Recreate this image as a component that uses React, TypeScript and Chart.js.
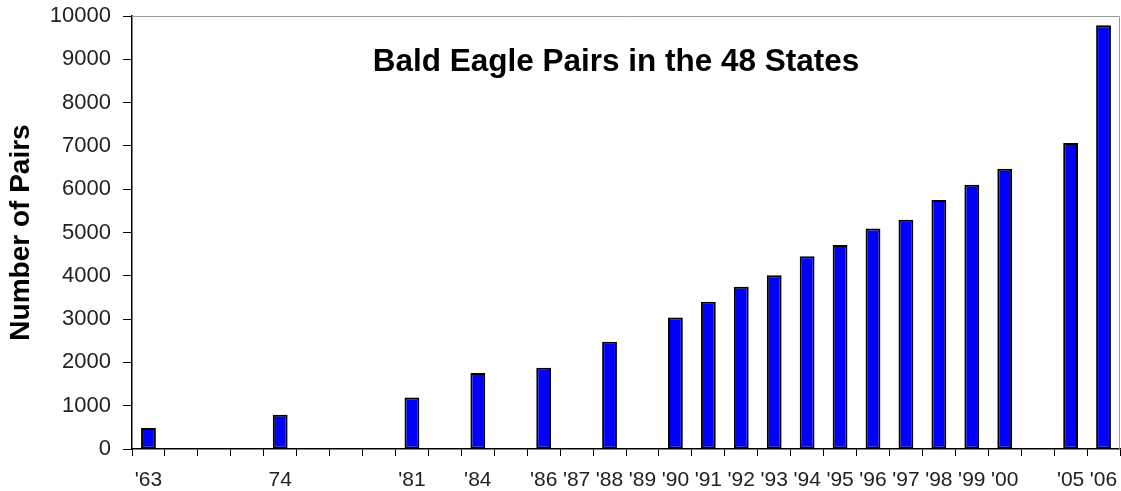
import React, { useEffect, useRef } from "react";
import { Chart, registerables } from "chart.js";

Chart.register(...registerables);

const categories: string[] = [
  "'63", "", "", "", "74", "", "", "", "'81", "", "'84", "", "'86", "'87", "'88",
  "'89", "'90", "'91", "'92", "'93", "'94", "'95", "'96", "'97", "'98", "'99", "'00", "", "'05", "'06",
];

const pairs: (number | null)[] = [
  487, null, null, null, 791, null, null, null, 1188, null, 1757, null, 1875, null, 2475,
  null, 3035, 3399, 3749, 4015, 4449, 4712, 5094, 5295, 5748, 6104, 6471, null, 7066, 9789,
];

const chartTitle = "Bald Eagle Pairs in the 48 States";
const yAxisTitle = "Number of Pairs";
const yMin = 0;
const yMax = 10000;
const yStep = 1000;

const FONT = "'Liberation Sans', Arial, sans-serif";

const insideTitle = {
  id: "insideTitle",
  afterDraw(chart: any) {
    const { ctx, chartArea } = chart;
    ctx.save();
    ctx.strokeStyle = "#9a9a9a";
    ctx.lineWidth = 1;
    ctx.beginPath();
    ctx.moveTo(chartArea.left, chartArea.top + 0.5);
    ctx.lineTo(chartArea.right - 0.5, chartArea.top + 0.5);
    ctx.lineTo(chartArea.right - 0.5, chartArea.bottom);
    ctx.stroke();
    ctx.fillStyle = "#000";
    ctx.font = `bold 31.5px ${FONT}`;
    ctx.textAlign = "center";
    ctx.textBaseline = "middle";
    ctx.fillText(chartTitle, (chartArea.left + chartArea.right) / 2 - 10, chartArea.top + 46);
    ctx.restore();
  },
};

export default function App() {
  const ref = useRef<HTMLCanvasElement | null>(null);

  useEffect(() => {
    document.body.style.margin = "0";
    const canvas = ref.current;
    if (!canvas) return;
    const chart = new Chart(canvas, {
      type: "bar",
      data: {
        labels: categories,
        datasets: [
          {
            data: pairs,
            backgroundColor: "#0000ff",
            borderColor: "#000000",
            borderWidth: 2,
            borderSkipped: false,
            barPercentage: 0.45,
            categoryPercentage: 1,
          },
        ],
      },
      options: {
        animation: false,
        responsive: false,
        maintainAspectRatio: false,
        layout: { padding: { top: 16, right: 1, left: 0, bottom: 0 } },
        plugins: {
          legend: { display: false },
          title: { display: false },
          tooltip: { enabled: false },
        },
        scales: {
          x: {
            grid: {
              display: true,
              drawOnChartArea: false,
              drawTicks: true,
              tickLength: 7,
              color: "#000",
              offset: true,
            },
            border: { display: true, color: "#000", width: 1.5 },
            ticks: {
              autoSkip: false,
              maxRotation: 0,
              minRotation: 0,
              padding: 12,
              color: "#222",
              font: { family: FONT, size: 21 },
            },
            afterFit(scale: any) {
              scale.height = 42;
              scale.paddingLeft = 0;
              scale.paddingRight = 0;
            },
          },
          y: {
            min: yMin,
            max: yMax,
            grid: {
              display: true,
              drawOnChartArea: false,
              drawTicks: true,
              tickLength: 9,
              color: "#000",
            },
            border: { display: true, color: "#000", width: 1.5 },
            ticks: {
              stepSize: yStep,
              padding: 12,
              color: "#222",
              font: { family: FONT, size: 22 },
              callback: (v: any) => String(v),
            },
            title: {
              display: true,
              text: yAxisTitle,
              color: "#000",
              font: { family: FONT, size: 28, weight: "bold" },
              padding: { top: 4, bottom: 0 },
            },
            afterFit(scale: any) {
              scale.width = 132;
              scale.paddingTop = 0;
              scale.paddingBottom = 0;
            },
          },
        },
      },
      plugins: [insideTitle],
    });
    return () => chart.destroy();
  }, []);

  return (
    <div style={{ width: 1121, height: 491, background: "#fff" }}>
      <canvas ref={ref} width={1121} height={491} style={{ display: "block" }} />
    </div>
  );
}
